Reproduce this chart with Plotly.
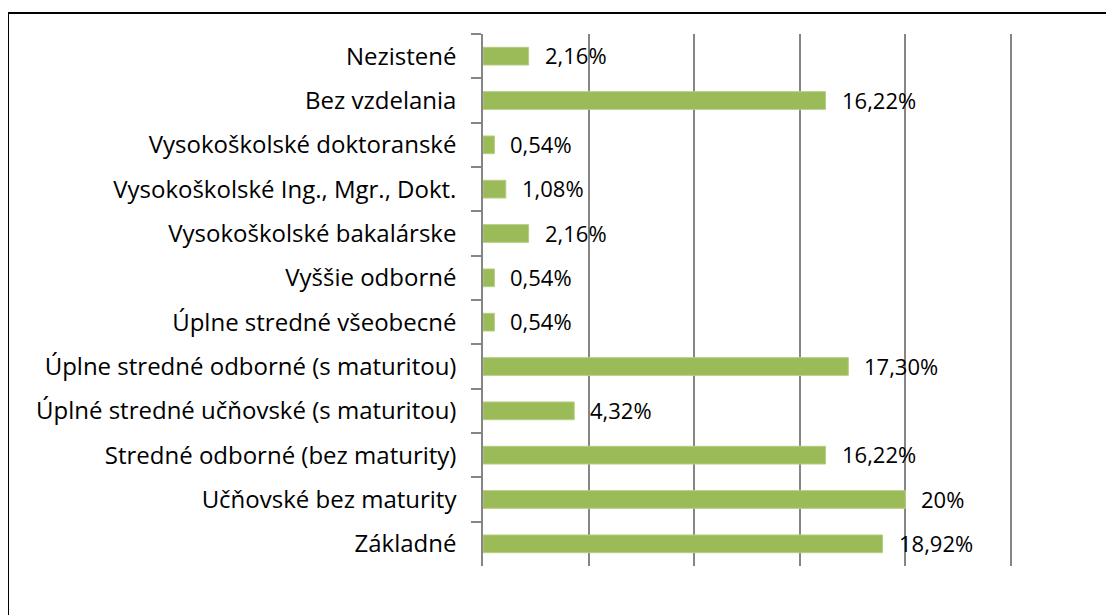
import plotly.graph_objects as go

categories = [
    "Nezistené",
    "Bez vzdelania",
    "Vysokoškolské doktoranské",
    "Vysokoškolské Ing., Mgr., Dokt.",
    "Vysokoškolské bakalárske",
    "Vyššie odborné",
    "Úplne stredné všeobecné",
    "Úplne stredné odborné (s maturitou)",
    "Úplné stredné učňovské (s maturitou)",
    "Stredné odborné (bez maturity)",
    "Učňovské bez maturity",
    "Základné",
]
values = [2.16, 16.22, 0.54, 1.08, 2.16, 0.54, 0.54, 17.30, 4.32, 16.22, 20.0, 18.92]
value_labels = ["2,16%", "16,22%", "0,54%", "1,08%", "2,16%", "0,54%", "0,54%",
                "17,30%", "4,32%", "16,22%", "20%", "18,92%"]
x_ticks = [0, 5, 10, 15, 20, 25]

FONT = "Open Sans"
W, H = 1114, 615
OFF = 8  # page body margin
L, R, T, B = 483 - OFF, 1012 - OFF, 34 - OFF, 566 - OFF

fig = go.Figure()
fig.add_trace(go.Bar(
    x=values, y=categories, orientation="h",
    marker=dict(color="#9BBB59", line=dict(color="#B5CE82", width=1)),
    hoverinfo="skip",
))

for v, c, t in zip(values, categories, value_labels):
    fig.add_annotation(x=v, y=c, text=t, showarrow=False, xanchor="left",
                       yanchor="middle", xshift=14, yshift=1,
                       font=dict(family=FONT, size=22, color="black"))

pw, ph = R - L, B - T
fig.add_shape(type="rect", xref="paper", yref="paper",
              x0=(8 - OFF - L) / pw, x1=(W + 20 - L) / pw,
              y0=(B - (H + 20)) / ph, y1=(B - (13 - OFF)) / ph,
              line=dict(color="black", width=2), fillcolor="rgba(0,0,0,0)")

fig.update_layout(
    width=W, height=H,
    margin=dict(l=L, r=W - R, t=T, b=H - B, pad=0),
    plot_bgcolor="white", paper_bgcolor="white",
    bargap=0.6, showlegend=False,
    font=dict(family=FONT, size=24, color="black"),
    xaxis=dict(range=[0, 25.05], tickvals=x_ticks, showticklabels=False,
               showgrid=True, gridcolor="#868686", gridwidth=1.5,
               zeroline=False, showline=False, ticks="", fixedrange=True),
    yaxis=dict(autorange="reversed", type="category", tickson="boundaries",
               ticks="outside", ticklen=10, tickcolor="#868686", tickwidth=1.5,
               showline=True, linecolor="#868686", linewidth=1.5,
               showgrid=False, ticklabelstandoff=20,
               tickfont=dict(family=FONT, size=24, color="black")),
)

fig.write_html("out.html")
